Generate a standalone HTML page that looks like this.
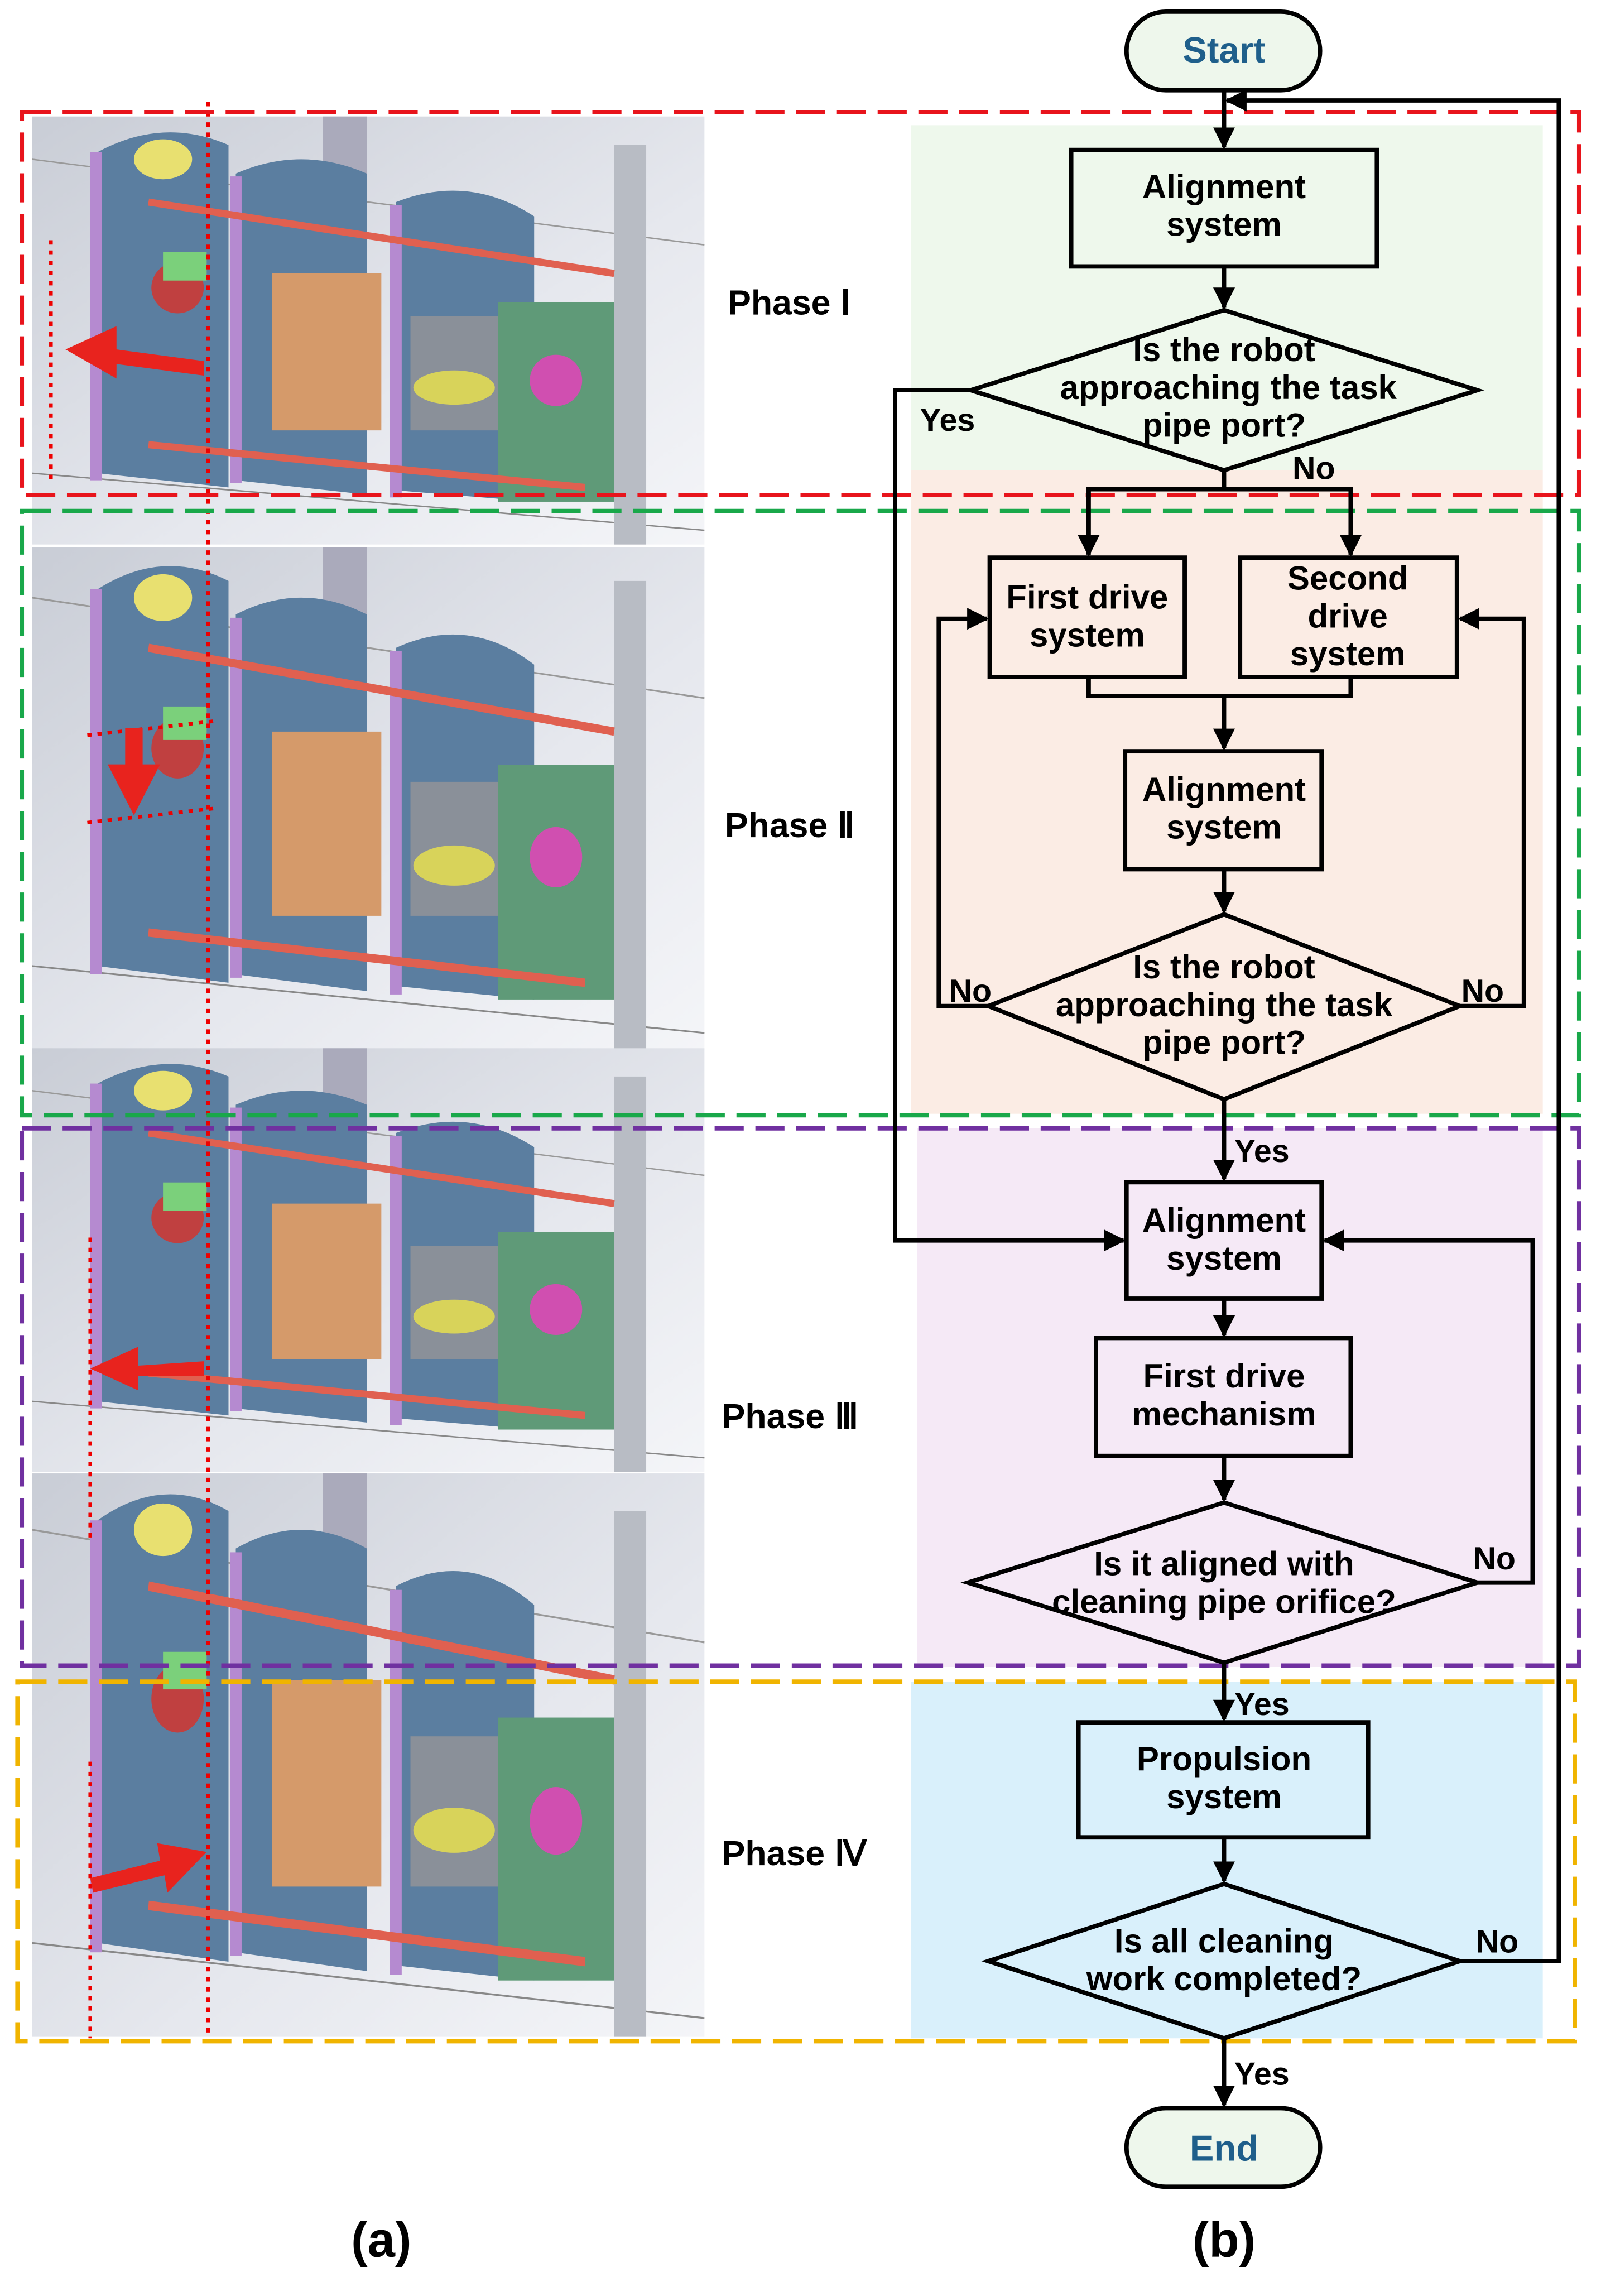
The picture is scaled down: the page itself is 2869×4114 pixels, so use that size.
<!DOCTYPE html>
<html><head><meta charset="utf-8"><style>
html,body{margin:0;padding:0;background:#fff}
svg{display:block}
text{font-family:"Liberation Sans",Arial,sans-serif;font-weight:bold}
</style></head><body>
<svg width="2869" height="4114" viewBox="0 0 1100 1577" preserveAspectRatio="none" xmlns="http://www.w3.org/2000/svg">
<defs>
<marker id="ar" viewBox="0 0 10 10" refX="9" refY="5" markerWidth="5" markerHeight="5" orient="auto-start-reverse"><path d="M0,0 L10,5 L0,10 z" fill="#000"/></marker>
<linearGradient id="bg" x1="0" y1="0" x2="1" y2="1"><stop offset="0" stop-color="#c9cdd6"/><stop offset="0.6" stop-color="#e6e8ee"/><stop offset="1" stop-color="#f4f5f8"/></linearGradient>
<g id="robot">
<rect x="0" y="0" width="462" height="300" fill="url(#bg)"/>
<line x1="0" y1="30" x2="462" y2="90" stroke="#999" stroke-width="1"/>
<line x1="0" y1="250" x2="462" y2="290" stroke="#888" stroke-width="1"/>
<rect x="400" y="20" width="22" height="280" fill="#b8bcc4"/>
<rect x="200" y="0" width="30" height="40" fill="#aab"/>
<path d="M45,25 Q90,0 135,20 L135,260 L45,250 Z" fill="#5b7ea0"/>
<rect x="40" y="25" width="8" height="230" fill="#b58ad0"/>
<path d="M140,40 Q185,20 230,40 L230,265 L140,255 Z" fill="#5b7ea0"/>
<rect x="136" y="42" width="8" height="215" fill="#b58ad0"/>
<path d="M250,60 Q300,40 345,70 L345,270 L250,262 Z" fill="#5b7ea0"/>
<rect x="246" y="62" width="8" height="205" fill="#b58ad0"/>
<rect x="165" y="110" width="75" height="110" fill="#d59a6a"/>
<rect x="260" y="140" width="75" height="80" fill="#8a9099"/>
<rect x="320" y="130" width="80" height="140" fill="#5f9a78"/>
<circle cx="360" cy="185" r="18" fill="#d04fb0"/>
<ellipse cx="290" cy="190" rx="28" ry="12" fill="#d8d35a"/>
<circle cx="100" cy="120" r="18" fill="#c04040"/>
<rect x="90" y="95" width="30" height="20" fill="#7bd07b"/>
<line x1="80" y1="60" x2="400" y2="110" stroke="#e06050" stroke-width="5"/>
<line x1="80" y1="230" x2="380" y2="260" stroke="#e06050" stroke-width="5"/>
<ellipse cx="90" cy="30" rx="20" ry="14" fill="#e8e070"/>
</g>
</defs>
<rect width="1100" height="1577" fill="#fff"/>
<!-- left images -->
<g transform="translate(22,80) scale(1,0.98)"><use href="#robot"/></g>
<g transform="translate(22,376) scale(1,1.15)"><use href="#robot"/></g>
<g transform="translate(22,720) scale(1,0.97)"><use href="#robot"/></g>
<g transform="translate(22,1012) scale(1,1.29)"><use href="#robot"/></g>
<!-- left overlays -->
<line x1="143" y1="70" x2="143" y2="1400" stroke="#e00" stroke-width="2.5" stroke-dasharray="3,4"/>
<line x1="35" y1="165" x2="35" y2="330" stroke="#e00" stroke-width="2.5" stroke-dasharray="3,4"/>
<line x1="62" y1="850" x2="62" y2="1060" stroke="#e00" stroke-width="2.5" stroke-dasharray="3,4"/>
<line x1="62" y1="1210" x2="62" y2="1400" stroke="#e00" stroke-width="2.5" stroke-dasharray="3,4"/>
<line x1="60" y1="505" x2="150" y2="495" stroke="#e00" stroke-width="2.5" stroke-dasharray="3,4"/>
<line x1="60" y1="565" x2="150" y2="555" stroke="#e00" stroke-width="2.5" stroke-dasharray="3,4"/>
<path d="M140,250 L80,240 L80,225 L45,240 L80,260 L80,248 Z" fill="#e8231e" transform="translate(0,0)"/>
<polygon points="140,248 80,240 80,224 45,240 80,258 80,250 140,258" fill="#e8231e"/>
<polygon points="86,500 98,500 98,525 110,525 92,560 74,525 86,525" fill="#e8231e"/>
<polygon points="140,935 95,938 95,925 62,940 95,955 95,945 140,945" fill="#e8231e"/>
<polygon points="62,1290 110,1278 108,1266 142,1272 115,1300 113,1288 64,1300" fill="#e8231e"/>
<!-- bands -->
<rect x="626" y="86" width="434" height="237" fill="#eef8ec"/>
<rect x="626" y="323" width="434" height="442" fill="#fbece4"/>
<rect x="630" y="775" width="430" height="370" fill="#f5e9f6"/>
<rect x="626" y="1155" width="434" height="245" fill="#d9f0fb"/>
<!-- dashed frames -->
<rect x="15" y="77" width="1070" height="263" fill="none" stroke="#e8141c" stroke-width="3" stroke-dasharray="20,8"/>
<rect x="15" y="351" width="1070" height="415" fill="none" stroke="#19a84a" stroke-width="3" stroke-dasharray="20,8"/>
<rect x="15" y="775" width="1070" height="369" fill="none" stroke="#7030a0" stroke-width="3" stroke-dasharray="20,8"/>
<rect x="12" y="1155" width="1070" height="247" fill="none" stroke="#f0b400" stroke-width="3" stroke-dasharray="20,8"/>
<!-- phase labels -->
<g font-size="24" fill="#000">
<text x="500" y="216">Phase Ⅰ</text>
<text x="498" y="575">Phase Ⅱ</text>
<text x="496" y="981">Phase Ⅲ</text>
<text x="496" y="1281">Phase Ⅳ</text>
</g>
<!-- connectors -->
<g stroke="#000" stroke-width="3" fill="none">
<line x1="841" y1="62" x2="841" y2="101" marker-end="url(#ar)"/>
<line x1="841" y1="183" x2="841" y2="211" marker-end="url(#ar)"/>
<polyline points="667,268 615,268 615,852 772,852" marker-end="url(#ar)"/>
<polyline points="841,323 841,336 748,336 748,381" marker-end="url(#ar)"/>
<polyline points="841,336 928,336 928,381" marker-end="url(#ar)"/>
<polyline points="748,465 748,478 928,478 928,465"/>
<line x1="841" y1="478" x2="841" y2="514" marker-end="url(#ar)"/>
<line x1="841" y1="597" x2="841" y2="626" marker-end="url(#ar)"/>
<polyline points="679,691 645,691 645,425 678,425" marker-end="url(#ar)"/>
<polyline points="1003,691 1047,691 1047,425 1003,425" marker-end="url(#ar)"/>
<line x1="841" y1="755" x2="841" y2="810" marker-end="url(#ar)"/>
<line x1="841" y1="892" x2="841" y2="917" marker-end="url(#ar)"/>
<line x1="841" y1="1000" x2="841" y2="1030" marker-end="url(#ar)"/>
<polyline points="1015,1087 1053,1087 1053,852 910,852" marker-end="url(#ar)"/>
<line x1="841" y1="1142" x2="841" y2="1181" marker-end="url(#ar)"/>
<line x1="841" y1="1262" x2="841" y2="1292" marker-end="url(#ar)"/>
<polyline points="1003,1347 1071,1347 1071,69 843,69" marker-end="url(#ar)"/>
<line x1="841" y1="1400" x2="841" y2="1446" marker-end="url(#ar)"/>
</g>
<!-- nodes -->
<g stroke="#000" stroke-width="3">
<rect x="774" y="8" width="133" height="54" rx="27" fill="#eef7ec"/>
<rect x="774" y="1448" width="133" height="54" rx="27" fill="#eef7ec"/>
<rect x="736" y="103" width="210" height="80" fill="#eef8ec"/>
<polygon points="841,213 1015,268 841,323 667,268" fill="#eef8ec"/>
<rect x="680" y="383" width="134" height="82" fill="#fbece4"/>
<rect x="852" y="383" width="149" height="82" fill="#fbece4"/>
<rect x="773" y="516" width="135" height="81" fill="#fbece4"/>
<polygon points="841,628 1003,691 841,755 679,691" fill="#fbece4"/>
<rect x="774" y="812" width="134" height="80" fill="#f5e9f6"/>
<rect x="753" y="919" width="175" height="81" fill="#f5e9f6"/>
<polygon points="841,1032 1015,1087 841,1142 665,1087" fill="#f5e9f6"/>
<rect x="741" y="1183" width="199" height="79" fill="#d9f0fb"/>
<polygon points="841,1294 1003,1347 841,1400 679,1347" fill="#d9f0fb"/>
</g>
<!-- node text -->
<g font-size="23" fill="#000" text-anchor="middle">
<text x="841" y="43" fill="#1f5f8b" font-size="25">Start</text>
<text x="841" y="1484" fill="#1f5f8b" font-size="25">End</text>
<text x="841" y="136">Alignment</text><text x="841" y="162">system</text>
<text x="841" y="248">Is the robot</text><text x="844" y="274">approaching the task</text><text x="841" y="300">pipe port?</text>
<text x="747" y="418">First drive</text><text x="747" y="444">system</text>
<text x="926" y="405">Second</text><text x="926" y="431">drive</text><text x="926" y="457">system</text>
<text x="841" y="550">Alignment</text><text x="841" y="576">system</text>
<text x="841" y="672">Is the robot</text><text x="841" y="698">approaching the task</text><text x="841" y="724">pipe port?</text>
<text x="841" y="846">Alignment</text><text x="841" y="872">system</text>
<text x="841" y="953">First drive</text><text x="841" y="979">mechanism</text>
<text x="841" y="1082">Is it aligned with</text><text x="841" y="1108">cleaning pipe orifice?</text>
<text x="841" y="1216">Propulsion</text><text x="841" y="1242">system</text>
<text x="841" y="1341">Is all cleaning</text><text x="841" y="1367">work completed?</text>
</g>
<g font-size="22" fill="#000">
<text x="632" y="296">Yes</text>
<text x="888" y="329">No</text>
<text x="652" y="688">No</text>
<text x="1004" y="688">No</text>
<text x="848" y="798">Yes</text>
<text x="1012" y="1078">No</text>
<text x="848" y="1178">Yes</text>
<text x="1014" y="1341">No</text>
<text x="848" y="1432">Yes</text>
</g>
<g font-size="34" fill="#000" text-anchor="middle">
<text x="262" y="1550">(a)</text>
<text x="841" y="1550">(b)</text>
</g>
</svg>
</body></html>
